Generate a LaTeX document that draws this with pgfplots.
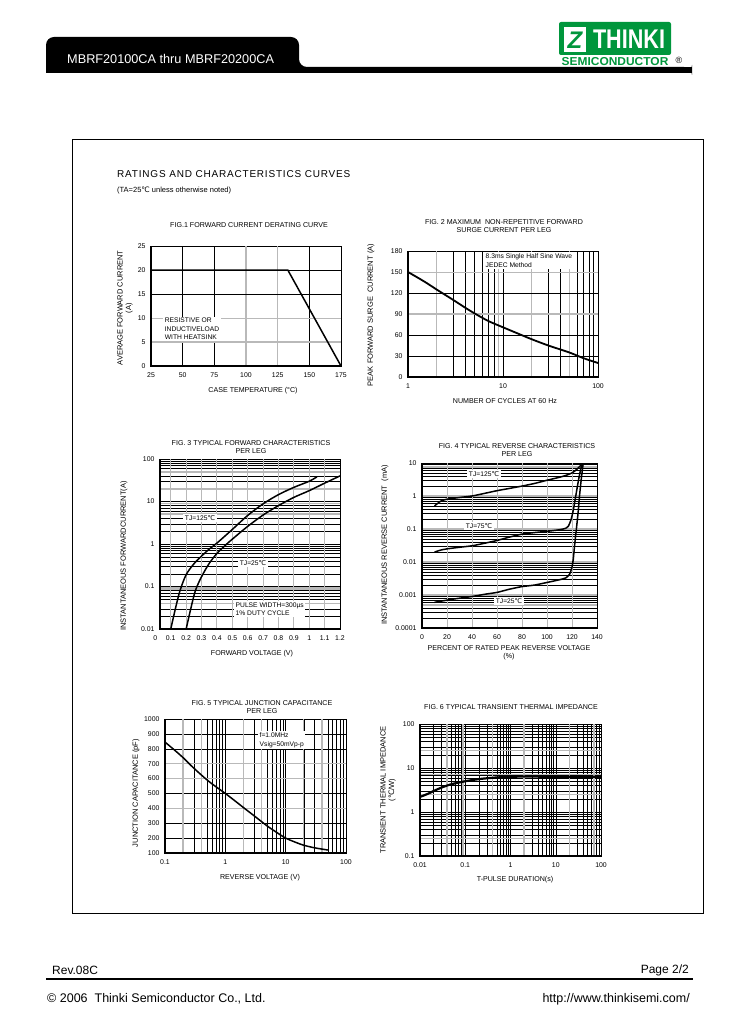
\documentclass[border=0pt]{standalone}
\usepackage{pgfplots}
\pgfplotsset{compat=1.18}
\usepackage{fontspec}
\setmainfont{Liberation Sans}
\newfontfamily\djv{DejaVu Sans}
\newcommand\dc{{\djv ℃}}
\definecolor{tgreen}{RGB}{0,150,60}
\definecolor{lgray}{RGB}{185,185,185}
\tikzset{
 gb/.style={black,line width=0.4pt},
 gt/.style={lgray,line width=0.7pt},
 gk/.style={lgray,line width=1.6pt},
 ttl/.style={font=\fontsize{7.1}{8.8}\selectfont, align=center},
 lab/.style={font=\fontsize{7.1}{8}\selectfont, align=center},
 ylab/.style={font=\fontsize{7.5}{8.5}\selectfont, align=center, rotate=90},
 lbl/.style={fill=white, inner sep=1.5pt, font=\fontsize{6.7}{8.5}\selectfont, align=left},
 cv/.style={black, line width=1.5pt, smooth, tension=0.5},
}
\pgfplotsset{ds/.style={scale only axis, anchor=north west,
  axis line style={black,line width=0.4pt},
  major tick length=0pt, minor tick length=0pt,
  ticklabel style={font=\fontsize{6.9}{7}\selectfont},
  /pgf/number format/assume math mode=true,
  /pgf/number format/1000 sep={},
  xticklabel style={yshift=-3.5pt}, yticklabel style={xshift=-2pt},
  grid style={gb}, minor grid style={gb}, major grid style={gb}}}
\begin{document}
\begin{tikzpicture}
\path[use as bounding box] (0pt,0pt) rectangle (729pt,-1032pt);
% ---------- header ----------
\fill[black, rounded corners=8pt] (46pt,-73pt) -- (46pt,-37pt) -- (299pt,-37pt) -- (299pt,-67pt) -- (692pt,-67pt) -- (692pt,-73pt) -- cycle;
\fill[black] (46pt,-73pt) rectangle (60pt,-60pt);
\fill[black] (670pt,-73pt) rectangle (692pt,-67pt);
\node[anchor=west, white, font=\fontsize{12.7}{14}\selectfont, inner sep=0pt] at (67pt,-59pt) {MBRF20100CA thru MBRF20200CA};
% logo
\fill[tgreen, rounded corners=2pt] (559pt,-22pt) rectangle (671pt,-55pt);
\fill[white] (564pt,-27pt) rectangle (586pt,-52pt);
\node[tgreen, font=\bfseries\itshape\fontsize{24}{24}\selectfont, inner sep=0pt] at (575pt,-40pt) {Z};
\node[white, font=\bfseries\fontsize{27}{27}\selectfont, inner sep=0pt, xscale=0.8] at (629pt,-39pt) {THINKI};
\node[tgreen, font=\bfseries\fontsize{11.5}{11.5}\selectfont, inner sep=0pt, xscale=1.04] at (615pt,-61.5pt) {SEMICONDUCTOR};
\node[font=\fontsize{9}{9}\selectfont, inner sep=0pt] at (679pt,-60pt) {®};
% frame
\draw[line width=0.8pt] (72pt,-139pt) rectangle (703pt,-913pt);
\node[anchor=west, inner sep=0pt, font=\fontsize{10}{12}\selectfont\addfontfeatures{LetterSpace=8}] at (117pt,-174pt) {RATINGS AND CHARACTERISTICS CURVES};
\node[anchor=west, inner sep=0pt, font=\fontsize{7.5}{9}\selectfont] at (117pt,-190pt) {(TA=25\dc\ unless otherwise noted)};

% ================= FIG 1 =================
\begin{axis}[ds, name=f1, at={(151pt,-246pt)}, width=190pt, height=120pt,
  xmin=25, xmax=175, ymin=0, ymax=25, xtick={25,50,...,175}, ytick={0,5,...,25}]
\pgfplotsinvokeforeach{50,75,150}{\draw[gb] (axis cs:#1,0)--(axis cs:#1,25);}
\draw[gk] (axis cs:100,0)--(axis cs:100,25);
\draw[gt] (axis cs:125,0)--(axis cs:125,25);
\pgfplotsinvokeforeach{15,20}{\draw[gb] (axis cs:25,#1)--(axis cs:175,#1);}
\draw[gt] (axis cs:25,10)--(axis cs:175,10);
\draw[gk] (axis cs:25,5)--(axis cs:175,5);
\addplot[black, line width=1.5pt] coordinates {(25,20) (133,20) (175,0)};
\end{axis}
\draw[line width=1.2pt] (f1.north west)--(f1.south west)--(f1.south east);
\node[lbl] at (192pt,-329pt) {RESISTIVE OR\\INDUCTIVELOAD\\WITH HEATSINK};
\node[ttl] at (249pt,-225pt) {FIG.1 FORWARD CURRENT DERATING CURVE};
\node[lab] at (253pt,-391pt) {CASE TEMPERATURE (°C)};
\node[ylab] at (125pt,-308pt) {AVERAGE FORWARD CURRENT\\(A)};

% ================= FIG 2 =================
\begin{axis}[ds, name=f2, at={(408pt,-251pt)}, width=190pt, height=126pt,
  xmode=log, xmin=1, xmax=100, ymin=0, ymax=180, ytick={0,30,...,180},
  xtick={1,10,100}, xticklabels={1,10,100}]
\pgfplotsinvokeforeach{3,4,5,6,7,8,10,30,40,60,70,80,90}{\draw[gb] (axis cs:#1,0)--(axis cs:#1,180);}
\pgfplotsinvokeforeach{2,9,50}{\draw[gk] (axis cs:#1,0)--(axis cs:#1,180);}
\draw[gt] (axis cs:20,0)--(axis cs:20,180);
\pgfplotsinvokeforeach{30,60,120}{\draw[gb] (axis cs:1,#1)--(axis cs:100,#1);}
\draw[gk] (axis cs:1,90)--(axis cs:100,90);
\draw[gt] (axis cs:1,150)--(axis cs:100,150);
\addplot[cv, line width=1.8pt] coordinates {(1,150) (1.5,136) (2,125) (3,110) (4,99) (5,91) (7,80) (10,71) (15,61) (20,54) (30,45) (50,35) (70,27) (100,20)};
\end{axis}
\draw[line width=1.2pt] (f2.north west)--(f2.south west)--(f2.south east);
\node[lbl, anchor=north west] at (484pt,-252pt) {8.3ms Single Half Sine Wave\\JEDEC Method};
\node[ttl] at (504pt,-226pt) {FIG. 2 MAXIMUM\ \ NON-REPETITIVE FORWARD\\SURGE CURRENT PER LEG};
\node[lab] at (505pt,-401pt) {NUMBER OF CYCLES AT 60 Hz};
\node[ylab] at (371pt,-315pt) {PEAK FORWARD SURGE\ \ CURRENT (A)};

% ================= FIG 3 =================
\begin{axis}[ds, name=f3, at={(160pt,-459pt)}, width=180pt, height=170pt, clip mode=individual,
  ymode=log, xmin=0.03, xmax=1.2, ymin=0.01, ymax=100,
  xtick={0.1,0.2,0.3,0.4,0.5,0.6,0.7,0.8,0.9,1,1.1,1.2},
  xticklabels={0.1,0.2,0.3,0.4,0.5,0.6,0.7,0.8,0.9,1,1.1,1.2},
  ytick={0.01,0.1,1,10,100}, yticklabels={0.01,0.1,1,10,100},
  yminorgrids, ymajorgrids]
\pgfplotsinvokeforeach{0.1,0.2,0.3,0.4,0.5,0.6,0.7,0.8,0.9,1,1.1}{\draw[lgray, line width=1.1pt] (axis cs:#1,0.01)--(axis cs:#1,100);}
\pgfplotsinvokeforeach{50,20,9,5,0.04}{\draw[gk] (axis cs:0.03,#1)--(axis cs:1.2,#1);}
\draw[lgray, line width=3pt] (axis cs:0.03,0.088)--(axis cs:1.2,0.088);
\node[anchor=north, font=\fontsize{6.9}{7}\selectfont, yshift=-3.5pt] at (axis cs:0,0.01) {0};
\addplot[cv] coordinates {(0.1,0.01) (0.13,0.03) (0.16,0.08) (0.2,0.19) (0.25,0.34) (0.3,0.52) (0.35,0.76) (0.4,1.05) (0.5,2.2) (0.6,4.7) (0.7,8.8) (0.8,14.5) (0.9,21.5) (1.0,30) (1.05,38)};
\addplot[cv] coordinates {(0.2,0.01) (0.23,0.03) (0.26,0.08) (0.3,0.17) (0.35,0.35) (0.4,0.6) (0.45,0.9) (0.5,1.3) (0.6,2.6) (0.7,4.8) (0.8,8) (0.9,12.5) (1.0,18) (1.1,27) (1.2,40)};
\end{axis}
\draw[line width=1.2pt] (f3.north west)--(f3.south west)--(f3.south east);
\node[lbl] at (200pt,-518pt) {TJ=125\dc};
\node[lbl] at (253pt,-563pt) {TJ=25\dc};
\node[lbl, anchor=north west] at (234pt,-601pt) {PULSE WIDTH=300µs\\1\% DUTY CYCLE};
\node[ttl] at (251pt,-447pt) {FIG. 3 TYPICAL FORWARD CHARACTERISTICS\\PER LEG};
\node[lab] at (252pt,-654pt) {FORWARD VOLTAGE (V)};
\node[ylab] at (124pt,-556pt) {INSTANTANEOUS FORWARDCURRENT(A)};

% ================= FIG 4 =================
\begin{axis}[ds, name=f4, at={(422pt,-463pt)}, width=175pt, height=165pt,
  ymode=log, xmin=0, xmax=140, ymin=0.0001, ymax=10, xtick={0,20,...,140},
  ytick={0.0001,0.001,0.01,0.1,1,10}, yticklabels={0.0001,0.001,0.01,0.1,1,10},
  yminorgrids]
\pgfplotsinvokeforeach{20,40,60,80,100,120}{\draw[gt] (axis cs:#1,0.0001)--(axis cs:#1,10);}
\pgfplotsinvokeforeach{1,0.1,0.01,0.001,0.0005,7.5}{\draw[gk] (axis cs:0,#1)--(axis cs:140,#1);}
\addplot[cv, tension=0.4] coordinates {(10,0.5) (15,0.7) (20,0.8) (30,0.9) (40,1.0) (50,1.2) (60,1.45) (70,1.7) (80,2.0) (90,2.4) (100,3.0) (110,3.7) (115,4.2) (120,5.0) (124,6.5) (127,8.5) (129,10)};
\addplot[cv, tension=0.4] coordinates {(10,0.02) (15,0.023) (20,0.025) (30,0.028) (40,0.031) (50,0.037) (60,0.045) (70,0.057) (80,0.07) (90,0.078) (100,0.085) (110,0.095) (115,0.105) (117,0.12) (119,0.18) (120.5,0.3) (122,0.6) (123,1) (125.5,3.5) (128,10)};
\addplot[cv, tension=0.4] coordinates {(10,0.0006) (20,0.0007) (30,0.0008) (40,0.0009) (50,0.00105) (60,0.0012) (70,0.0015) (80,0.0018) (90,0.002) (100,0.0024) (110,0.0029) (115,0.0033) (118,0.0042) (120,0.007) (121,0.012) (122,0.03) (123.5,0.1) (125,0.35) (126,1) (127.5,3.5) (129,10)};
\end{axis}
\draw[line width=1.2pt] (f4.north west)--(f4.south west)--(f4.south east);
\node[lbl] at (484pt,-474pt) {TJ=125\dc};
\node[lbl] at (479pt,-526pt) {TJ=75\dc};
\node[lbl] at (509pt,-601pt) {TJ=25\dc};
\node[ttl] at (517pt,-450pt) {FIG. 4 TYPICAL REVERSE CHARACTERISTICS\\PER LEG};
\node[lab] at (509pt,-653pt) {PERCENT OF RATED PEAK REVERSE VOLTAGE\\(\%)};
\node[ylab] at (385pt,-545pt) {INSTANTANEOUS REVERSE CURRENT\ \ (mA)};

% ================= FIG 5 =================
\begin{axis}[ds, name=f5, at={(165pt,-719pt)}, width=181pt, height=134pt,
  xmode=log, xmin=0.1, xmax=100, ymin=100, ymax=1000, ytick={100,200,...,1000},
  xtick={0.1,1,10,100}, xticklabels={0.1,1,10,100},
  xminorgrids, xmajorgrids, ymajorgrids]
\pgfplotsinvokeforeach{0.2,0.4,4,40}{\draw[gk] (axis cs:#1,100)--(axis cs:#1,1000);}
\pgfplotsinvokeforeach{2,20}{\draw[gt] (axis cs:#1,100)--(axis cs:#1,1000);}
\draw[gk] (axis cs:0.1,600)--(axis cs:100,600);
\pgfplotsinvokeforeach{700,400}{\draw[gt] (axis cs:0.1,#1)--(axis cs:100,#1);}
\addplot[cv] coordinates {(0.1,845) (0.15,785) (0.2,740) (0.3,670) (0.5,590) (0.7,545) (1,500) (1.5,445) (2,405) (3,350) (5,280) (7,240) (10,200) (15,170) (20,152) (30,135) (50,120)};
\end{axis}
\draw[line width=1.2pt] (f5.north west)--(f5.south west)--(f5.south east);
\node[lbl, anchor=north west] at (258pt,-731pt) {f=1.0MHz\\Vsig=50mVp-p};
\node[ttl] at (262pt,-707pt) {FIG. 5 TYPICAL JUNCTION CAPACITANCE\\PER LEG};
\node[lab] at (260pt,-878pt) {REVERSE VOLTAGE (V)};
\node[ylab] at (136pt,-793pt) {JUNCTION CAPACITANCE (pF)};

% ================= FIG 6 =================
\begin{axis}[ds, name=f6, at={(420pt,-724pt)}, width=181pt, height=132pt,
  xmode=log, ymode=log, xmin=0.01, xmax=100, ymin=0.1, ymax=100,
  xtick={0.01,0.1,1,10,100}, xticklabels={0.01,0.1,1,10,100},
  ytick={0.1,1,10,100}, yticklabels={0.1,1,10,100},
  grid=both]
\pgfplotsinvokeforeach{0.04,0.09,0.4,2,20,70}{\draw[gk] (axis cs:#1,0.1)--(axis cs:#1,100);}
\pgfplotsinvokeforeach{0.25,2.5,7,25}{\draw[gt] (axis cs:0.01,#1)--(axis cs:100,#1);}
\addplot[cv, line width=2.2pt] coordinates {(0.01,2.2) (0.015,2.6) (0.02,3.0) (0.03,3.6) (0.05,4.3) (0.1,5.0) (0.2,5.6) (0.5,6.1) (1,6.3) (2,6.4) (5,6.35) (10,6.3) (100,6.3)};
\end{axis}
\draw[line width=1.2pt] (f6.north west)--(f6.south west)--(f6.south east);
\node[ttl] at (511pt,-707pt) {FIG. 6 TYPICAL TRANSIENT THERMAL IMPEDANCE};
\node[lab] at (515pt,-880pt) {T-PULSE DURATION(s)};
\node[ylab] at (388pt,-790pt) {TRANSIENT THERMAL IMPEDANCE\\(\dc/W)};

% ---------- footer ----------
\node[anchor=west, inner sep=0pt, font=\fontsize{12}{14}\selectfont] at (52pt,-970pt) {Rev.08C};
\node[anchor=east, inner sep=0pt, font=\fontsize{12}{14}\selectfont] at (689pt,-970pt) {Page 2/2};
\draw[line width=2pt] (46pt,-979pt) -- (693pt,-979pt);
\node[anchor=west, inner sep=0pt, font=\fontsize{12.5}{14}\selectfont] at (47pt,-999pt) {© 2006\ \ Thinki Semiconductor Co., Ltd.};
\node[anchor=east, inner sep=0pt, font=\fontsize{12.5}{14}\selectfont] at (690pt,-999pt) {http://www.thinkisemi.com/};
\end{tikzpicture}
\end{document}
